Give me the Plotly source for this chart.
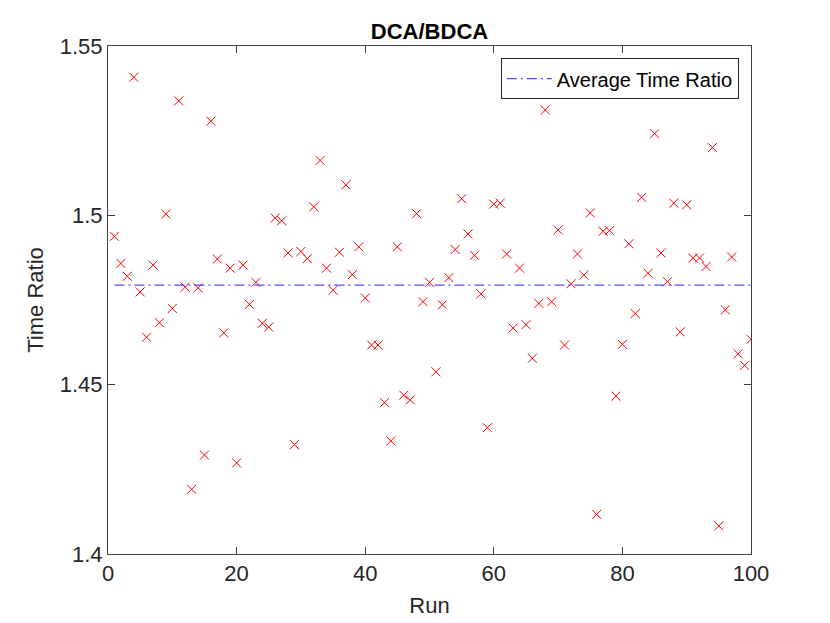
import plotly.graph_objects as go

# Time ratio DCA/BDCA per run
runs = list(range(1, 101))
time_ratio = [
    1.4938, 1.4858, 1.4820, 1.5408, 1.4774, 1.4640, 1.4853, 1.4683, 1.5004, 1.4725,
    1.5338, 1.4788, 1.4191, 1.4786, 1.4292, 1.5278, 1.4871, 1.4653, 1.4844, 1.4269,
    1.4853, 1.4737, 1.4802, 1.4681, 1.4670, 1.4992, 1.4984, 1.4889, 1.4323, 1.4893,
    1.4872, 1.5025, 1.5162, 1.4844, 1.4779, 1.4891, 1.5090, 1.4825, 1.4907, 1.4756,
    1.4617, 1.4617, 1.4447, 1.4334, 1.4907, 1.4469, 1.4455, 1.5005, 1.4745, 1.4802,
    1.4538, 1.4736, 1.4816, 1.4899, 1.5049, 1.4945, 1.4882, 1.4768, 1.4373, 1.5033,
    1.5036, 1.4886, 1.4667, 1.4844, 1.4677, 1.4578, 1.4740, 1.5311, 1.4745, 1.4957,
    1.4617, 1.4798, 1.4886, 1.4824, 1.5007, 1.4117, 1.4953, 1.4955, 1.4466, 1.4619,
    1.4916, 1.4710, 1.5053, 1.4829, 1.5241, 1.4889, 1.4804, 1.5036, 1.4656, 1.5031,
    1.4874, 1.4874, 1.4849, 1.5200, 1.4083, 1.4721, 1.4877, 1.4591, 1.4557, 1.4634,
]
avg_ratio = 1.4794

x_ticks = [0, 20, 40, 60, 80, 100]
y_ticks = [1.4, 1.45, 1.5, 1.55]
y_tick_text = ["1.4", "1.45", "1.5", "1.55"]

font = "Liberation Sans, Arial, sans-serif"
axis_col = "#404040"
text_col = "#262626"

fig = go.Figure()

fig.add_trace(go.Scatter(
    x=runs, y=time_ratio, mode="markers", showlegend=False,
    marker=dict(symbol="x-thin", size=9, color="#ff0000",
                line=dict(color="#ff0000", width=1)),
))

fig.add_trace(go.Scatter(
    x=[runs[0], runs[-1]], y=[avg_ratio, avg_ratio], mode="lines",
    name="Average Time Ratio",
    line=dict(color="#2020ff", width=1, dash="10px,4px,2px,4px"),
))

axis_common = dict(
    showline=True, linecolor=axis_col, linewidth=1, mirror="ticks",
    ticks="inside", ticklen=7, tickcolor=axis_col, tickwidth=1,
    showgrid=False, zeroline=False,
    tickfont=dict(family=font, size=22, color=text_col),
)

# page body adds 8px, so margins are shifted to keep the axes where they are
fig.update_layout(
    width=830, height=623,
    margin=dict(l=100, r=87, t=38, b=77),
    paper_bgcolor="white", plot_bgcolor="white",
    title=dict(text="<b>DCA/BDCA</b>", x=0.5, xref="paper",
               y=1 - 23 / 623, yanchor="middle",
               font=dict(family=font, size=22, color="black")),
    xaxis=dict(range=[0, 100], tickvals=x_ticks,
               title=dict(text="Run", standoff=12,
                          font=dict(family=font, size=22, color=text_col)),
               **axis_common),
    yaxis=dict(range=[1.4, 1.55], tickvals=y_ticks, ticktext=y_tick_text,
               title=dict(text="Time Ratio", standoff=10,
                          font=dict(family=font, size=22, color=text_col)),
               **axis_common),
    legend=dict(x=0.981, y=0.976, xanchor="right", yanchor="top",
                itemwidth=45,
                bgcolor="white", bordercolor=text_col, borderwidth=1,
                font=dict(family=font, size=20, color="black")),
)

fig.write_html("out.html")
